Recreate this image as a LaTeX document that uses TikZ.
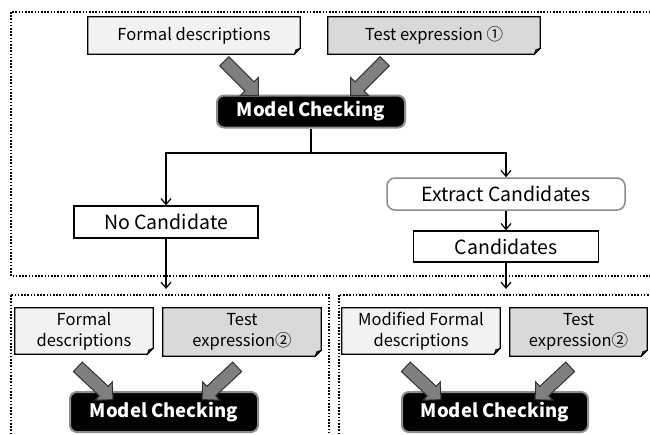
\documentclass[tikz,border=0pt]{standalone}
\usepackage{fontspec}
\setmainfont{Noto Sans CJK JP}
\usetikzlibrary{arrows.meta,shapes.arrows,backgrounds,positioning}

\definecolor{notelight}{HTML}{F2F2F2}
\definecolor{notegray}{HTML}{D9D9D9}
\definecolor{arrowgray}{HTML}{7F7F7F}
\definecolor{rimgray}{HTML}{8C8C8C}

\tikzset{
  frame/.style={line width=1.6pt, dash pattern=on 1.6pt off 1.6pt},
  memo/.style={inner sep=0pt, align=center, font=\fontsize{16.5}{21}\selectfont},
  plainbox/.style={draw=black, line width=1.2pt, fill=white, inner sep=0pt,
    font=\fontsize{19.5}{22}\selectfont},
  extractbox/.style={draw=rimgray, line width=1.5pt, fill=white, rounded corners=8pt,
    inner sep=0pt, font=\fontsize{19.5}{22}\selectfont},
  checkbox/.style={draw=rimgray, line width=2pt, fill=black, text=white,
    rounded corners=7pt, inner sep=0pt, font=\fontsize{18.5}{22}\selectfont\bfseries},
  bigarr/.style={single arrow, draw=black!80, fill=arrowgray, line width=1pt,
    inner sep=6pt, single arrow head extend=6pt, minimum height=48pt,
    single arrow tip angle=90},
  conn/.style={line width=1.2pt, -{Straight Barb[length=6pt,width=10pt,line width=1.2pt]}},
}

% memo card with a folded bottom-right corner, drawn behind node #1
\newcommand\dogear[2]{%
  \begin{scope}[on background layer]
    \filldraw[fill=#2, draw=black, line width=1.2pt, line join=miter]
      (#1.north west) -- (#1.north east) -- ([yshift=6pt]#1.south east)
      -- ([xshift=-6pt]#1.south east) -- (#1.south west) -- cycle;
    \filldraw[fill=black!80, draw=black, line width=0.6pt]
      ([yshift=6pt]#1.south east) -- ([xshift=-6pt]#1.south east)
      -- ([xshift=-4.5pt,yshift=4.5pt]#1.south east) -- cycle;
  \end{scope}}

\begin{document}
\begin{tikzpicture}[x=1pt, y=-1pt]
  \useasboundingbox (0,0) rectangle (650,434);
  \clip (0,0) rectangle (650,434);

  % dotted frames
  \draw[frame] (11,12) rectangle (670,276);
  \draw[frame] (11,295) rectangle (329,450);
  \draw[frame] (339,295) rectangle (670,450);

  % ---- first check ----
  \node[memo, minimum width=212pt, minimum height=37pt] (fd1) at (194,35.5) {Formal descriptions};
  \dogear{fd1}{notelight}
  \node[memo, minimum width=212pt, minimum height=37pt] (te1) at (434,35.5) {Test expression ①};
  \dogear{te1}{notegray}

  \node[checkbox, minimum width=188pt, minimum height=32pt] (mc1) at (311,111.5) {Model Checking};

  \node[bigarr, rotate=-45] (a1) at (239,76) {};
  \node[bigarr, rotate=-135] (a2) at (370,76) {};

  \node[plainbox, minimum width=184pt, minimum height=32pt] (nc) at (166,222) {No Candidate};
  \node[extractbox, minimum width=238pt, minimum height=32pt] (ec) at (506,194) {Extract Candidates};
  \node[plainbox, minimum width=185pt, minimum height=31pt] (cand) at (506,246.5) {Candidates};

  \coordinate (split) at (mc1.south |- 0,153);
  \coordinate (ncout) at (nc.south |- 0,289);
  \coordinate (candout) at (cand.south |- 0,289);

  \draw[line width=1.2pt] (mc1.south) -- (split);
  \draw[conn] (split) -| (nc.north);
  \draw[conn] (split) -| (ec.north);
  \draw[conn] (ec.south) -- (cand.north);
  \draw[conn] (nc.south) -- (ncout);
  \draw[conn] (cand.south) -- (candout);

  % ---- second check, no candidate ----
  \node[memo, minimum width=138pt, minimum height=46pt] (fd2) at (84,331)
    {Formal\\descriptions};
  \dogear{fd2}{notelight}
  \node[memo, minimum width=158pt, minimum height=48pt] (te2) at (242,332)
    {Test\\expression②};
  \dogear{te2}{notegray}
  \node[checkbox, minimum width=188pt, minimum height=40pt] (mc2) at (164,412) {Model Checking};
  \node[bigarr, rotate=-43] (a3) at (93,381) {};
  \node[bigarr, rotate=-137] (a4) at (222,381) {};

  % ---- second check, modified descriptions ----
  \node[memo, minimum width=158pt, minimum height=46pt] (fd3) at (421,331)
    {Modified Formal\\descriptions};
  \dogear{fd3}{notelight}
  \node[memo, minimum width=137pt, minimum height=48pt] (te3) at (578.5,332)
    {Test\\expression②};
  \dogear{te3}{notegray}
  \node[checkbox, minimum width=186pt, minimum height=40pt] (mc3) at (495,412) {Model Checking};
  \node[bigarr, rotate=-43] (a5) at (421,381) {};
  \node[bigarr, rotate=-137] (a6) at (555,381) {};
\end{tikzpicture}
\end{document}
